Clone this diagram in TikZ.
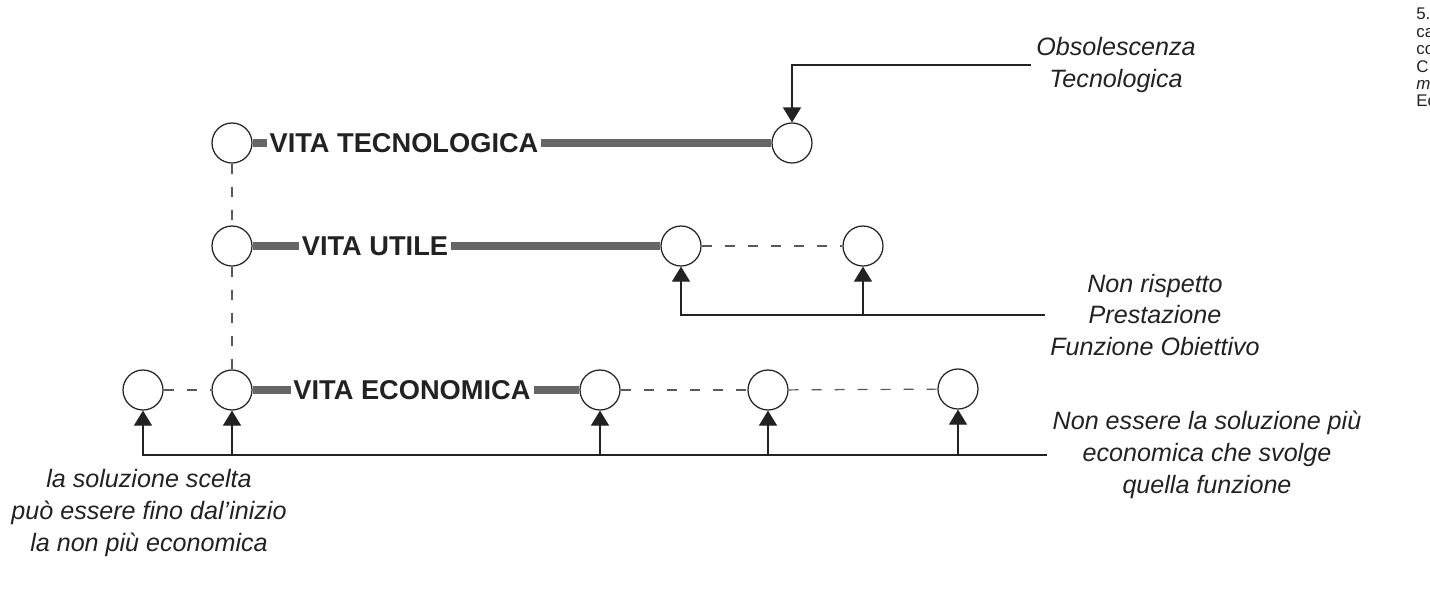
\documentclass[tikz,border=0pt]{standalone}
\usepackage{fontspec}
\setmainfont{Liberation Sans}
\usetikzlibrary{arrows.meta}
\definecolor{ink}{HTML}{222222}
\begin{document}
\begin{tikzpicture}[x=0.02cm, y=-0.02cm, every node/.style={text=ink},
  cir/.style={draw=ink,line width=0.7pt,circle,minimum size=0.8cm,inner sep=0pt},
  lbl/.style={font=\bfseries\fontsize{15.5}{18}\selectfont,inner sep=1.5pt},
  note/.style={font=\itshape\fontsize{14.3}{18.2}\selectfont,align=center,inner sep=3pt},
  bar/.style={line width=4.5pt,draw=black!60},
  dsh/.style={draw=black!65,line width=0.7pt,dash pattern=on 0.2cm off 0.26cm},
  arr/.style={draw=ink,line width=0.7pt,-{Triangle[width=0.36cm,length=0.3cm]}}]
\useasboundingbox[fill=white] (0,0) rectangle (1430,589);
\node[cir] (t0) at (232,143) {};
\node[cir] (t1) at (792,143) {};
\node[lbl] (tlab) at (404,143) {VITA TECNOLOGICA};
\node[cir] (u0) at (232,246) {};
\node[cir] (u1) at (681,246) {};
\node[cir] (u2) at (863,246) {};
\node[lbl] (ulab) at (375,246) {VITA UTILE};
\node[cir] (e0) at (143,390) {};
\node[cir] (e1) at (232,390) {};
\node[cir] (e2) at (600,390) {};
\node[cir] (e3) at (768,390) {};
\node[cir] (e4) at (958,389) {};
\node[lbl] (elab) at (412,390) {VITA ECONOMICA};
\node[note] (obs) at (1116,65) {Obsolescenza\\Tecnologica};
\node[note] (nrp) at (1155,315) {Non rispetto\\Prestazione\\Funzione Obiettivo};
\node[note] (nec) at (1207,455) {Non essere la soluzione più\\economica che svolge\\quella funzione};
\node[note] (sce) at (149,513) {la soluzione scelta\\può essere fino dal'inizio\\la non più economica};
\node[anchor=north west,align=left,inner sep=0pt,font=\fontsize{9.6}{9.9}\selectfont] (cap) at (1416,8) {5.\\ca\\co\\C.\\\textit{m}\\Ec};
\draw[bar] (t0.east) -- (tlab.west);
\draw[bar] (tlab.east) -- (t1.west);
\draw[bar] (u0.east) -- (ulab.west);
\draw[bar] (ulab.east) -- (u1.west);
\draw[bar] (e1.east) -- (elab.west);
\draw[bar] (elab.east) -- (e2.west);
\draw[dsh] (t0) -- (u0);
\draw[dsh] (u0) -- (e1);
\draw[dsh] (u1) -- (u2);
\draw[dsh] (e0) -- (e1);
\draw[dsh] (e2) -- (e3);
\draw[dsh] (e3) -- (e4);
\draw[arr] (obs.west) -| (t1.north);
\draw[arr] (nrp.west) -| (u1.south);
\draw[arr] (u2.south |- nrp.west) -- (u2.south);
\draw[arr] (nec.west) -| (e0.south);
\draw[arr] (e1.south |- nec.west) -- (e1.south);
\draw[arr] (e2.south |- nec.west) -- (e2.south);
\draw[arr] (e3.south |- nec.west) -- (e3.south);
\draw[arr] (e4.south |- nec.west) -- (e4.south);
\end{tikzpicture}
\end{document}
